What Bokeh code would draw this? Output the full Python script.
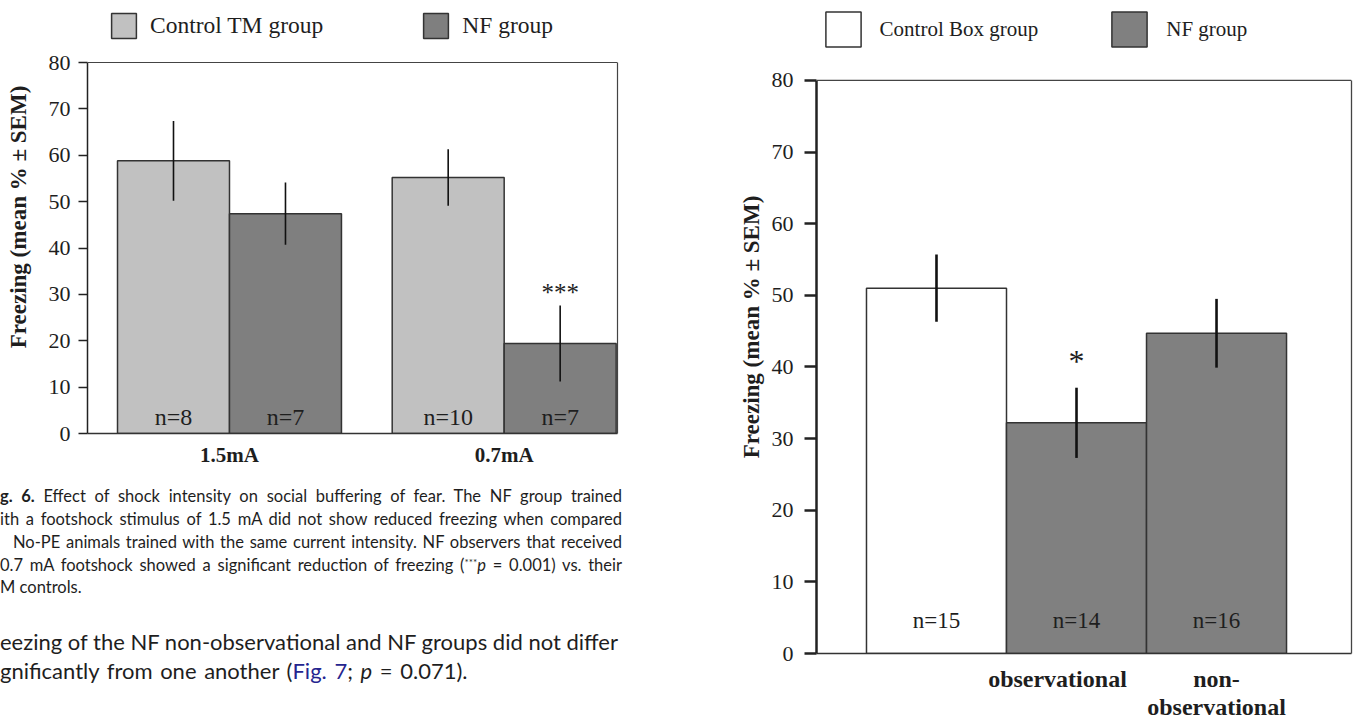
from bokeh.plotting import figure
from bokeh.models import (Range1d, FixedTicker, Legend, LegendItem, ColumnDataSource, Div,
                          Span, LinearAxis)
from bokeh.layouts import row, column
from bokeh.embed import file_html
from bokeh.resources import INLINE
from bokeh.core.properties import value

SERIF = "Liberation Serif"

# ---------------- Fig. 6 data (left chart) ----------------
f6_groups = ["1.5mA", "0.7mA"]
f6_series = ["Control TM group", "NF group"]
f6_ctrl_mean = [58.8, 55.2]
f6_ctrl_sem = [8.6, 6.1]
f6_ctrl_n = [8, 10]
f6_nf_mean = [47.4, 19.4]
f6_nf_sem = [6.7, 8.2]
f6_nf_n = [7, 7]
f6_nf_sig = ["", "***"]
f6_yticks = [0, 10, 20, 30, 40, 50, 60, 70, 80]

# ---------------- Fig. 7 data (right chart) ----------------
f7_labels = ["", "observational", "non-\nobservational"]
f7_series = ["Control Box group", "NF group", "NF group"]
f7_mean = [51.0, 32.2, 44.7]
f7_sem = [4.7, 4.9, 4.8]
f7_n = [15, 14, 16]
f7_sig = ["", "*", ""]
f7_yticks = [0, 10, 20, 30, 40, 50, 60, 70, 80]

# ---------------- page text ----------------
caption_line1_bold = "g. 6."
caption_line1 = "Effect of shock intensity on social buffering of fear. The NF group trained"
caption_line2 = "ith a footshock stimulus of 1.5 mA did not show reduced freezing when compared"
caption_line3 = "No-PE animals trained with the same current intensity. NF observers that received"
caption_line4a = "0.7 mA footshock showed a significant reduction of freezing ("
caption_line4b = "= 0.001) vs. their"
caption_line5 = "M controls."
body_line1 = "eezing of the NF non-observational and NF groups did not differ"
body_line2a = "gnificantly from one another ("
body_line2b = "= 0.071)."

INK = "#1e1e1e"
YMAX = 80


def base_style(p):
    p.grid.visible = False
    p.background_fill_color = "white"
    p.border_fill_color = "white"
    p.outline_line_color = None


def style_axes(p, ticks, tick_out, tick_w, axis_w, tick_size, ylab_standoff, ylab_size, tick_standoff):
    p.yaxis.ticker = FixedTicker(ticks=ticks)
    p.yaxis.bounds = (0, YMAX)
    p.yaxis.major_tick_out = tick_out
    p.yaxis.major_tick_in = 0
    p.yaxis.minor_tick_out = 0
    p.yaxis.minor_tick_in = 0
    p.yaxis.major_tick_line_color = "#222222"
    p.yaxis.major_tick_line_width = tick_w
    p.yaxis.axis_line_color = "#222222"
    p.yaxis.axis_line_width = axis_w
    p.yaxis.major_label_text_font = SERIF
    p.yaxis.major_label_text_font_size = tick_size
    p.yaxis.major_label_text_color = INK
    p.yaxis.major_label_standoff = tick_standoff
    p.yaxis.axis_label = "Freezing (mean % \u00b1 SEM)"
    p.yaxis.axis_label_text_font = SERIF
    p.yaxis.axis_label_text_font_style = "bold"
    p.yaxis.axis_label_text_font_size = ylab_size
    p.yaxis.axis_label_text_color = INK
    p.yaxis.axis_label_standoff = ylab_standoff
    p.xaxis.major_tick_out = 0
    p.xaxis.major_tick_in = 0
    p.xaxis.minor_tick_out = 0
    p.xaxis.minor_tick_in = 0
    p.xaxis.axis_line_color = "#333333"
    p.xaxis.axis_line_width = 1.5
    p.xaxis.major_label_text_font = SERIF
    p.xaxis.major_label_text_font_style = "bold"
    p.xaxis.major_label_text_color = INK


def frame_box(p, color, width):
    # top edge of the plotting box at y = 80 and right edge drawn as a bare axis line
    p.add_layout(Span(location=YMAX, dimension="width", line_color=color, line_width=width))
    ax = LinearAxis(ticker=FixedTicker(ticks=[]), bounds=(0, YMAX), axis_line_color=color,
                    axis_line_width=width, major_tick_out=0, major_tick_in=0,
                    minor_tick_out=0, minor_tick_in=0, major_label_standoff=0)
    p.add_layout(ax, "right")


def make_legend(items, loc, gsize, standoff, spacing, fsize):
    return Legend(items=items, location=loc, orientation="horizontal",
                  glyph_width=gsize, glyph_height=gsize, label_standoff=standoff,
                  padding=0, margin=0, spacing=spacing,
                  border_line_alpha=0, background_fill_alpha=0,
                  label_text_font=SERIF, label_text_font_size=fsize, label_text_color=INK)


# ======================= LEFT CHART (Fig. 6) =======================
GAP = 0.453
ng = len(f6_groups)
ctrl_x = [round(g * (2 + GAP) + 0.5, 3) for g in range(ng)]
nf_x = [round(g * (2 + GAP) + 1.5, 3) for g in range(ng)]
grp_x = [round(g * (2 + GAP) + 1.0, 3) for g in range(ng)]

L_W, L_H, L_BOT, L_PLOT = 700, 478, 45, 371      # plot box 371 px tall for 0..80
l_top = YMAX * (L_H - L_BOT) / L_PLOT            # y-range extends up to hold the legend

p1 = figure(width=L_W, height=L_H, title=None, toolbar_location=None, output_backend="svg",
            x_range=Range1d(-0.268, 2 * ng + GAP + 0.012), y_range=Range1d(0, l_top),
            min_border_left=87, min_border_right=83, min_border_top=0, min_border_bottom=L_BOT)
base_style(p1)

src_c = ColumnDataSource(dict(
    x=ctrl_x, top=f6_ctrl_mean,
    lo=[m - s for m, s in zip(f6_ctrl_mean, f6_ctrl_sem)],
    hi=[m + s for m, s in zip(f6_ctrl_mean, f6_ctrl_sem)],
    n=["n=%d" % v for v in f6_ctrl_n]))
src_n = ColumnDataSource(dict(
    x=nf_x, top=f6_nf_mean,
    lo=[m - s for m, s in zip(f6_nf_mean, f6_nf_sem)],
    hi=[m + s for m, s in zip(f6_nf_mean, f6_nf_sem)],
    n=["n=%d" % v for v in f6_nf_n], sig=f6_nf_sig))

r_c = p1.vbar(x="x", top="top", bottom=0, width=1.0, source=src_c,
              fill_color="#c1c1c1", line_color="#333333", line_width=1.5)
r_n = p1.vbar(x="x", top="top", bottom=0, width=1.0, source=src_n,
              fill_color="#7f7f7f", line_color="#333333", line_width=1.5)
for s in (src_c, src_n):
    p1.segment(x0="x", y0="lo", x1="x", y1="hi", source=s, line_color="#111111", line_width=1.6)
    p1.text(x="x", y=0, text="n", source=s, text_align="center", text_baseline="middle",
            y_offset=-17, text_font=value(SERIF), text_font_size="24px", text_color=INK)
p1.text(x="x", y="hi", text="sig", source=src_n, text_align="center", text_baseline="alphabetic",
        y_offset=-13, text_font=value(SERIF), text_font_size="25px", text_color=INK)

style_axes(p1, f6_yticks, 9, 1.5, 1.5, "22px", 15, "23px", 8)
p1.xaxis.ticker = FixedTicker(ticks=grp_x)
p1.xaxis.major_label_overrides = {gx: lab for gx, lab in zip(grp_x, f6_groups)}
p1.xaxis.major_label_text_font_size = "21px"
p1.xaxis.major_label_standoff = 9
frame_box(p1, "#444444", 1.2)

p1.add_layout(make_legend([LegendItem(label=f6_series[0], renderers=[r_c]),
                           LegendItem(label=f6_series[1], renderers=[r_n])],
                          (21, 392.4), 31, 11, 97, "23.5px"))

# ======================= RIGHT CHART (Fig. 7) =======================
f7_x = [i + 0.5 for i in range(len(f7_labels))]
f7_label_nudge = [0.0, -0.136, 0.0]      # the printed "observational" sits a little left of its bar
f7_label_x = [round(x + d, 3) for x, d in zip(f7_x, f7_label_nudge)]
ctrl_idx = [i for i, s in enumerate(f7_series) if s == "Control Box group"]
nf_idx = [i for i, s in enumerate(f7_series) if s == "NF group"]


def sub(idx):
    return ColumnDataSource(dict(
        x=[f7_x[i] for i in idx], top=[f7_mean[i] for i in idx],
        lo=[f7_mean[i] - f7_sem[i] for i in idx], hi=[f7_mean[i] + f7_sem[i] for i in idx],
        n=["n=%d" % f7_n[i] for i in idx], sig=[f7_sig[i] for i in idx]))


R_W, R_H, R_BOT, R_PLOT = 654, 723, 69, 574
r_top = YMAX * (R_H - R_BOT) / R_PLOT

p2 = figure(width=R_W, height=R_H, title=None, toolbar_location=None, output_backend="svg",
            x_range=Range1d(-0.357, len(f7_labels) + 0.464), y_range=Range1d(0, r_top),
            min_border_left=116, min_border_right=3, min_border_top=0, min_border_bottom=R_BOT)
base_style(p2)

s_c = sub(ctrl_idx)
s_n = sub(nf_idx)
r2c = p2.vbar(x="x", top="top", bottom=0, width=1.0, source=s_c,
              fill_color="white", line_color="#333333", line_width=1.5)
r2n = p2.vbar(x="x", top="top", bottom=0, width=1.0, source=s_n,
              fill_color="#808080", line_color="#333333", line_width=1.5)
for s in (s_c, s_n):
    p2.segment(x0="x", y0="lo", x1="x", y1="hi", source=s, line_color="#111111", line_width=2.6)
    p2.text(x="x", y=0, text="n", source=s, text_align="center", text_baseline="middle",
            y_offset=-33, text_font=value(SERIF), text_font_size="23px", text_color=INK)
    p2.text(x="x", y="hi", text="sig", source=s, text_align="center", text_baseline="alphabetic",
            y_offset=-27, text_font=value(SERIF), text_font_size="32px", text_color=INK)

style_axes(p2, f7_yticks, 12, 2.5, 2.5, "22px", 5, "23px", 11)
p2.xaxis.ticker = FixedTicker(ticks=f7_label_x)
p2.xaxis.major_label_overrides = {xx: lab for xx, lab in zip(f7_label_x, f7_labels)}
p2.xaxis.major_label_text_font_size = "24px"
p2.xaxis.major_label_text_line_height = 1.1
p2.xaxis.major_label_standoff = 12
frame_box(p2, "#444444", 1.3)

p2.add_layout(make_legend([LegendItem(label=f7_series[0], renderers=[r2c]),
                           LegendItem(label=f7_series[1], renderers=[r2n])],
                          (4.6, 601.7), 44, 15, 69, "21px"))

# ======================= CAPTION / BODY TEXT (HTML) =======================


def line(top, left, width, size, lh, inner, justify=True, extra=""):
    ja = "text-align:justify;text-align-last:justify;" if justify else "text-align:left;"
    return ('<div style="position:absolute;left:%spx;top:%spx;width:%spx;font-size:%spx;'
            'line-height:%spx;white-space:nowrap;%s%s">%s</div>'
            % (left, top, width, size, lh, ja, extra, inner))


CAP = 16.5
parts = [
    line(7.3, 0, 622, CAP, 22, "<b>%s</b> %s" % (caption_line1_bold, caption_line1)),
    line(29.8, 0, 622, CAP, 22, caption_line2),
    line(52.5, 13, 609, CAP, 22, caption_line3),
    line(75.5, 0, 622, CAP, 22, '%s<span style="font-size:10px;vertical-align:5px;line-height:0">***</span>'
         '<i>p</i> %s' % (caption_line4a, caption_line4b)),
    line(98.2, 0, 622, CAP, 22, caption_line5, justify=False),
    line(148.5, 0, 618, 22, 29, body_line1),
    line(178.0, 0, 618, 22, 29, '%s<span style="color:#25258f">Fig. 7</span>; <i>p</i> %s'
         % (body_line2a, body_line2b), justify=False, extra="word-spacing:2px;"),
]
html = ('<div style="position:relative;width:700px;height:245px;overflow:hidden;'
        'font-family:Lato, sans-serif;color:#1e1e1e;">' + "".join(parts) + "</div>")
caption = Div(text=html, width=700, height=245, margin=0)

layout = row(column(p1, caption), p2)
open("out.html", "w").write(file_html(layout, INLINE))
